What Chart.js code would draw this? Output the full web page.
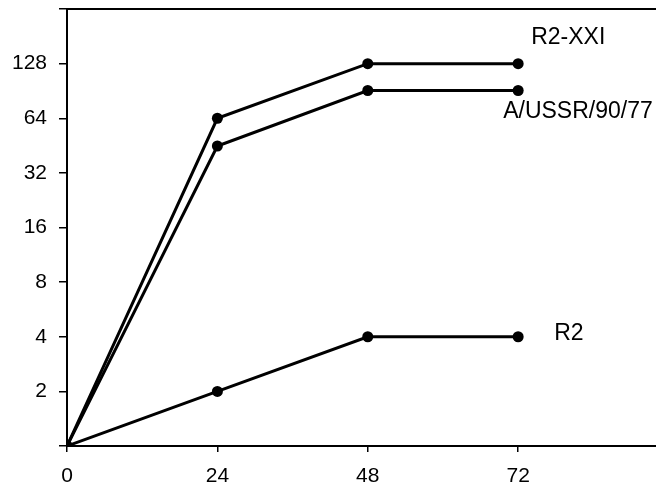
<!DOCTYPE html>
<html>
<head>
<meta charset="utf-8">
<script src="https://cdn.jsdelivr.net/npm/chart.js@4/dist/chart.umd.min.js"></script>
<style>
  html, body { margin: 0; padding: 0; background: #fff; }
  #wrap { width: 656px; height: 490px; }
</style>
</head>
<body>
<div id="wrap"><canvas id="Chart" width="656" height="490"></canvas></div>
<script>
//Hours after infection (x) and titre (y, log2 scale).
const hours = [0, 24, 48, 72];
const r2xxi = [1, 64, 128, 128];
const ussr = [1, 45, 91, 91];
const r2 = [1, 2, 4, 4];
const seriesNames = ['R2-XXI', 'A/USSR/90/77', 'R2'];
const yTicks = [1, 2, 4, 8, 16, 32, 64, 128, 256];
const yTickLabels = [2, 4, 8, 16, 32, 64, 128];
const xTicks = [0, 24, 48, 72];

//Label offsets from the last point of each line, in pixels.
const labelOffsets = [[13, -26], [-15, 21], [36, -3]];

function toPoints(values) {
    return values.map(function (v, i) { return { x: hours[i], y: v }; });
}

function lineDataset(label, values) {
    return {
        label: label,
        data: toPoints(values),
        borderColor: '#000',
        backgroundColor: '#000',
        borderWidth: 3,
        pointRadius: 5.5,
        pointHoverRadius: 5.5,
        pointBorderWidth: 0,
        fill: false,
        tension: 0
    };
}

//Draws the series names next to the end of each line.
const endLabels = {
    id: 'endLabels',
    afterDatasetsDraw: function (chart) {
        const ctx = chart.ctx;
        ctx.save();
        ctx.fillStyle = '#000';
        ctx.font = '23px "Liberation Sans", Arial, sans-serif';
        ctx.textAlign = 'left';
        ctx.textBaseline = 'middle';
        chart.data.datasets.forEach(function (ds, i) {
            const pts = chart.getDatasetMeta(i).data;
            const last = pts[pts.length - 1];
            ctx.fillText(ds.label, last.x + labelOffsets[i][0], last.y + labelOffsets[i][1]);
        });
        ctx.restore();
    }
};

//Pins an axis to a fixed size and drops the extra padding for end labels.
function fixSize(prop, size) {
    return function (scale) {
        scale[prop] = size;
        scale.paddingTop = 0;
        scale.paddingBottom = 0;
        scale.paddingLeft = 0;
        scale.paddingRight = 0;
    };
}

const tickFont = { family: '"Liberation Sans", Arial, sans-serif', size: 21 };

config = {
    type: 'line',
    data: {
        datasets: [
            lineDataset(seriesNames[0], r2xxi),
            lineDataset(seriesNames[1], ussr),
            lineDataset(seriesNames[2], r2)
        ]
    },
    options: {
        responsive: false,
        animation: false,
        layout: { autoPadding: false, padding: 0 },
        plugins: { legend: { display: false }, tooltip: { enabled: false } },
        scales: {
            x: {
                type: 'linear',
                position: 'bottom',
                min: 0,
                max: 94,
                afterBuildTicks: function (scale) {
                    scale.ticks = xTicks.map(function (v) { return { value: v }; });
                },
                afterFit: fixSize('height', 44),
                ticks: { color: '#000', font: tickFont, padding: 12, maxRotation: 0 },
                grid: { display: true, drawOnChartArea: false, drawTicks: true, tickLength: 6, color: '#000', lineWidth: 1.5 },
                border: { display: true, color: '#000', width: 2 }
            },
            xTop: {
                type: 'linear',
                position: 'top',
                min: 0,
                max: 94,
                afterFit: fixSize('height', 9),
                ticks: { display: false },
                grid: { display: false, drawTicks: false },
                border: { display: true, color: '#000', width: 2 }
            },
            y: {
                type: 'logarithmic',
                min: 1,
                max: 256,
                afterBuildTicks: function (scale) {
                    scale.ticks = yTicks.map(function (v) { return { value: v }; });
                },
                afterFit: fixSize('width', 67),
                ticks: {
                    color: '#000',
                    font: tickFont,
                    padding: 12,
                    callback: function (value) {
                        return yTickLabels.indexOf(value) >= 0 ? String(value) : '';
                    }
                },
                grid: { display: true, drawOnChartArea: false, drawTicks: true, tickLength: 8, color: '#000', lineWidth: 1.5 },
                border: { display: true, color: '#000', width: 2 }
            }
        }
    },
    plugins: [endLabels]
};

window.onload = function () {
    window.myLine = new Chart(document.getElementById('Chart').getContext('2d'), config);
};
</script>
</body>
</html>
